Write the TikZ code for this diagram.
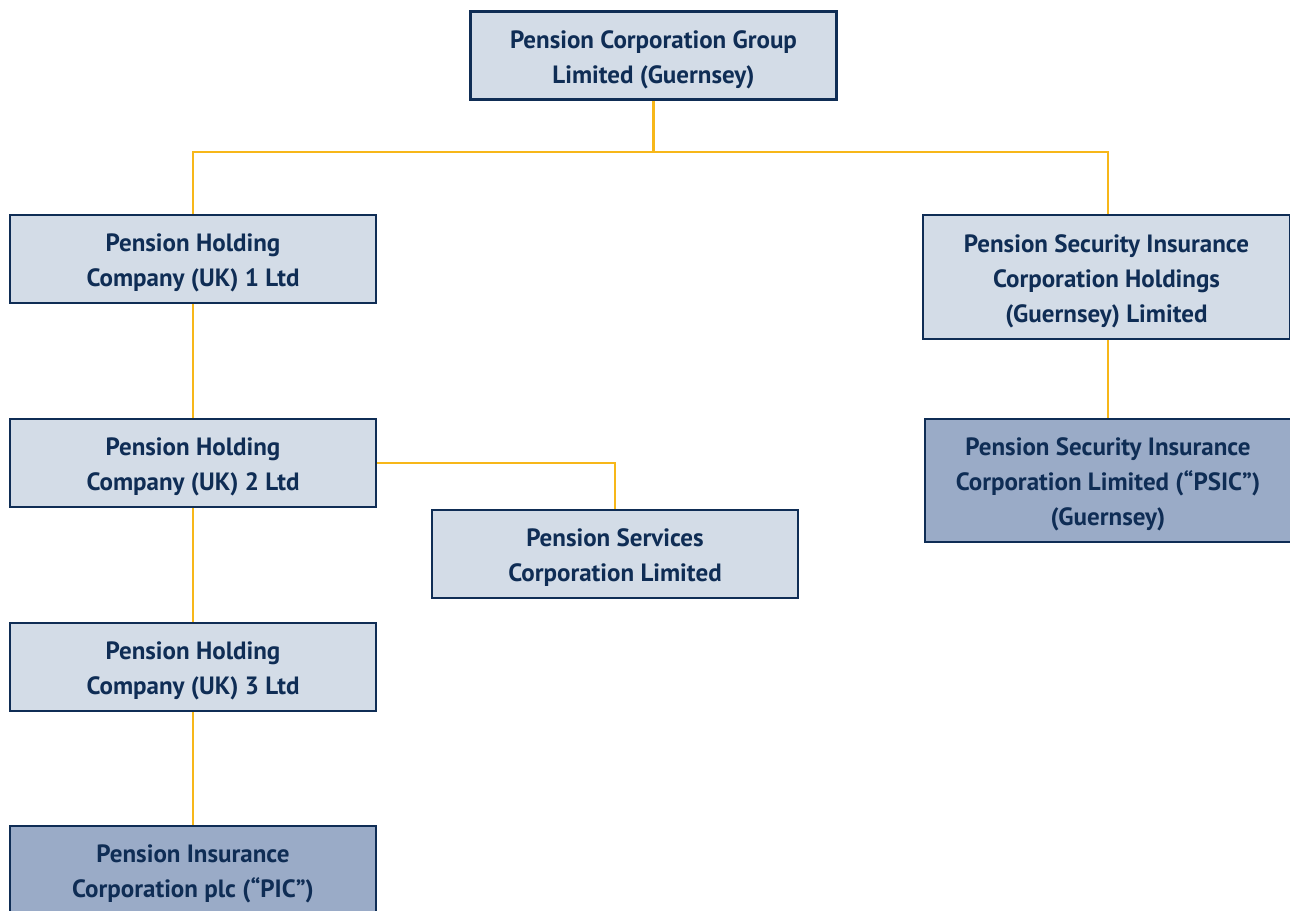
\documentclass[tikz,border=0pt]{standalone}
\usepackage{fontspec}
\setmainfont{PT Sans}
\definecolor{navy}{HTML}{0F2D55}
\definecolor{lightbox}{HTML}{D3DCE7}
\definecolor{darkbox}{HTML}{9AABC7}
\definecolor{gold}{HTML}{F7B719}
\tikzset{
  entity/.style={draw=navy, line width=2.6pt, fill=lightbox,
    minimum width=366pt, minimum height=88pt, inner sep=0pt},
  entitydark/.style={entity, fill=darkbox},
  lbl/.style={text=navy, align=center, inner sep=0pt, yshift=-4pt,
    font=\bfseries\fontsize{25}{35}\selectfont},
  link/.style={draw=gold, line width=2.4pt}
}
\begin{document}
\begin{tikzpicture}[x=1pt,y=-1pt]
\useasboundingbox (0,0) rectangle (1290,910);
\clip (0,0) rectangle (1290,910);
\node[entity, label={[lbl]center:{Pension Corporation Group\\Limited (Guernsey)}}] (top) at (653.5,55.5) {};
\node[entity, label={[lbl]center:{Pension Holding\\Company (UK) 1 Ltd}}] (ph1) at (193,259) {};
\node[entity, minimum height=124pt, minimum width=367pt, label={[lbl]center:{Pension Security Insurance\\Corporation Holdings\\(Guernsey) Limited}}] (psich) at (1106.5,277) {};
\node[entity, label={[lbl]center:{Pension Holding\\Company (UK) 2 Ltd}}] (ph2) at (193,463) {};
\node[entity, label={[lbl]center:{Pension Services\\Corporation Limited}}] (psc) at (615,554) {};
\node[entitydark, minimum height=123pt, label={[lbl]center:{Pension Security Insurance\\Corporation Limited (``PSIC'')\\(Guernsey)}}] (psic) at (1108,480.5) {};
\node[entity, label={[lbl]center:{Pension Holding\\Company (UK) 3 Ltd}}] (ph3) at (193,667) {};
\node[entitydark, label={[lbl]center:{Pension Insurance\\Corporation plc (``PIC'')}}] (pic) at (193,870) {};
\coordinate (bus) at (653.5,152);
\coordinate (rdrop) at (1108,152);
\draw[link] (top.south) -- (bus);
\draw[link] (bus) -| (ph1.north);
\draw[link] (bus) -- (rdrop) -- (rdrop |- psich.north);
\draw[link] (ph1.south) -- (ph2.north);
\draw[link] (ph2.south) -- (ph3.north);
\draw[link] (ph3.south) -- (pic.north);
\draw[link] (ph2.east) -| (psc.north);
\draw[link] (psic.north |- psich.south) -- (psic.north);
\end{tikzpicture}
\end{document}
